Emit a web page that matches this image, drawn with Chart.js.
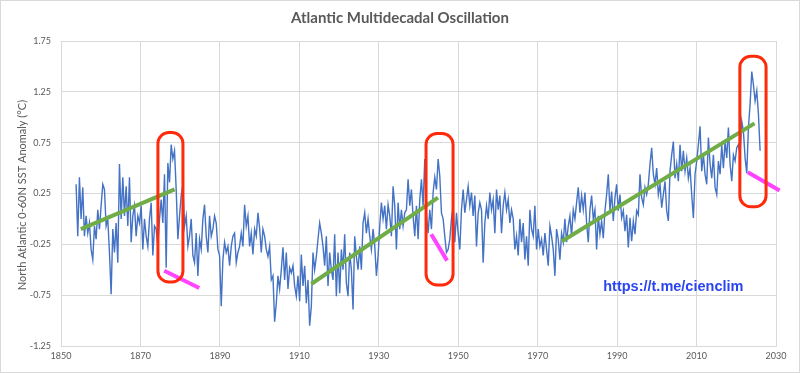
<!DOCTYPE html>
<html>
<head>
<meta charset="utf-8">
<script src="https://cdn.jsdelivr.net/npm/chart.js@4.4.0/dist/chart.umd.min.js"></script>
<style>
  html, body { margin: 0; padding: 0; background: #fff; }
  #caixa { width: 800px; height: 373px; }
</style>
</head>
<body>
<div id="caixa"><canvas id="grafico" width="800" height="373"></canvas></div>
<script>
// anomalia AMO, uma amostra a cada ~0.42 ano
const anoInicial = 1853.8;
const passo = 0.42;

const amo1854 = [
  0.34, -0.17, 0.41, 0.00, 0.31, -0.17, 0.03, -0.14, -0.04, -0.30,
  -0.40, -0.07, -0.20, 0.09, -0.10, 0.13, 0.34, 0.29, -0.07, 0.00,
  -0.33, -0.74, -0.10, -0.33, -0.04, -0.43, 0.54, 0.00, 0.41, 0.03,
  0.32, -0.07, 0.41, -0.23, 0.03, 0.13, -0.17, 0.03, -0.04, 0.13,
  -0.30, 0.00, -0.17, -0.27, 0.00, 0.16, -0.36, -0.07, -0.10, -0.27,
  0.00, 0.19, -0.04, 0.44, -0.48, 0.55, 0.36, 0.73, 0.59, 0.67,
  0.29, -0.20, 0.03, 0.23, 0.34, -0.07, 0.03, -0.27, -0.17, 0.00,
  -0.36, -0.43, -0.14, -0.56, -0.20, -0.30, 0.00, 0.14, -0.17, -0.33,
  0.03, -0.17, -0.10, 0.03, -0.04, -0.30, -0.36, -0.86, -0.40, -0.23,
  -0.33, -0.27, -0.46, -0.27, -0.17, -0.14, -0.43, -0.33, -0.27,
];

const amo1895 = [
  -0.14, -0.27, 0.14, -0.07, 0.03, -0.27, -0.14, -0.35, -0.10, -0.17,
  0.06, -0.09, -0.33, -0.10, -0.17, -0.30, -0.37, -0.27, -0.60, -0.56,
  -1.01, -0.83, -0.56, -0.69, -0.50, -0.28, -0.60, -0.33, -0.69, -0.48,
  -0.53, -0.46, -0.66, -0.76, -0.56, -0.81, -0.35, -0.66, -0.46, -0.83,
  -0.60, -1.05, -0.86, -0.33, -0.50, -0.37, -0.20, -0.04, -0.14, -0.27,
  -0.46, -0.17, -0.66, -0.33, -0.50, -0.60, -0.15, -0.76, -0.33, -0.73,
  -0.30, -0.50, -0.15, -0.63, -0.76, -0.33, -0.50, -0.89, -0.17, -0.37,
  -0.50, -0.27, -0.50, -0.04, 0.06, -0.14, 0.00, -0.17, -0.30, -0.10,
  -0.26, -0.56, -0.37, -0.07, 0.16, 0.00, 0.13, -0.10, 0.14, 0.03,
  -0.17, 0.32, 0.13, -0.30, 0.16, -0.10, 0.09, -0.07, 0.06, 0.09,
  0.39, 0.13, 0.29, 0.03, -0.17, 0.13, -0.20,
];

const amo1940 = [
  0.19, 0.39, 0.13, 0.59, 0.03, -0.14, 0.09, -0.10, 0.26, 0.41,
  0.29, 0.59, 0.42, 0.06, 0.00, -0.17, -0.33, -0.30, -0.20, 0.00,
  0.13, -0.23, 0.06, -0.14, -0.30, 0.09, 0.29, 0.06, 0.19, 0.32,
  0.13, 0.26, 0.03, 0.23, -0.27, 0.06, 0.16, 0.09, -0.43, -0.04,
  0.13, 0.00, 0.26, 0.09, 0.19, -0.14, 0.29, 0.09, 0.23, -0.14,
  0.13, 0.26, 0.09, 0.19, -0.04, 0.09, 0.00, -0.30, -0.17, -0.36,
  0.00, -0.23, -0.04, -0.40, -0.17, -0.46, 0.09, -0.10, -0.17, 0.13,
  -0.30, -0.10, -0.27, -0.20, -0.36, -0.14, -0.30, -0.46, -0.07, -0.17,
  -0.30, -0.56, -0.10, -0.20, -0.40, -0.14, -0.23, 0.00, -0.23, -0.07,
  0.03, -0.17, 0.09, 0.00, 0.16, 0.31, 0.06, 0.23, 0.09, 0.26,
  -0.04, -0.23, 0.09, 0.23, 0.00, 0.09, -0.30, 0.03,
];

const amo1986 = [
  -0.15, -0.02, -0.19, 0.08, 0.24, 0.44, 0.08, 0.27, -0.02, 0.21,
  0.34, 0.08, 0.24, 0.01, 0.08, -0.12, 0.04, -0.28, 0.01, -0.22,
  -0.02, -0.15, 0.08, 0.04, 0.44, 0.21, 0.14, 0.31, 0.24, 0.34,
  0.54, 0.70, 0.44, 0.34, 0.50, 0.24, 0.34, 0.11, 0.24, 0.37,
  0.08, -0.02, 0.47, 0.63, 0.76, 0.40, 0.54, 0.37, 0.73, 0.47,
  0.67, 0.47, 0.60, 0.40, 0.50, 0.24, 0.01, 0.44, 0.57, 0.73,
  0.91, 0.47, 0.63, 0.44, 0.34, 0.80, 0.54, 0.40, 0.63, 0.31,
  0.24, 0.57, 0.44, 0.73, 0.50, 0.76, 0.60, 0.90, 0.54, 0.37,
  0.63, 0.57, 0.70, 0.73, 0.63, 0.96, 0.86, 0.60, 0.45, 0.90,
  1.13, 1.45, 1.32, 1.16, 1.26, 1.03, 0.67,
];

// retas de tendência (verde) e de queda (magenta): [ano, valor]
const tendencias = [
  [[1855.0, -0.10], [1878.6, 0.29]],
  [[1913.0, -0.64], [1944.9, 0.21]],
  [[1976.1, -0.22], [2024.6, 0.94]],
];
const quedas = [
  [[1876.0, -0.51], [1884.8, -0.68]],
  [[1943.2, -0.15], [1947.2, -0.41]],
  [[2022.9, 0.46], [2030.9, 0.28]],
];
// caixas vermelhas: [ano inicial, ano final, topo, base]
const caixas = [
  [1874.4, 1880.7, 0.85, -0.62],
  [1941.9, 1948.7, 0.84, -0.65],
  [2020.9, 2027.5, 1.60, 0.12],
];

const titulo = "Atlantic Multidecadal Oscillation";
const tituloY = "North Atlantic 0-60N SST Anomaly (°C)";
const link = "https://t.me/cienclim";
const posLink = [1986.5, -0.665];

const serie = amo1854.concat(amo1895, amo1940, amo1986)
  .map((v, i) => ({ x: anoInicial + i * passo, y: v }));

const pontos = (seg) => seg.map((p) => ({ x: p[0], y: p[1] }));

const datasets = [];
quedas.forEach((q) => {
  datasets.push({
    data: pontos(q), borderColor: "#ff44ff", borderWidth: 4,
    pointRadius: 0, clip: false, order: 1,
  });
});
tendencias.forEach((t) => {
  datasets.push({
    data: pontos(t), borderColor: "#70ad47", borderWidth: 4,
    pointRadius: 0, order: 2,
  });
});
datasets.push({
  data: serie, borderColor: "#4472c4", borderWidth: 1.4,
  pointRadius: 0, tension: 0, order: 3,
});

const decoracoes = {
  id: "decoracoes",
  beforeDraw(chart) {
    const ctx = chart.ctx;
    ctx.save();
    ctx.fillStyle = "#fff";
    ctx.fillRect(0, 0, 800, 373);
    ctx.strokeStyle = "#d9d9d9";
    ctx.lineWidth = 1;
    ctx.strokeRect(0.5, 0.5, 799, 372);
    ctx.restore();
  },
  afterDatasetsDraw(chart) {
    const { ctx, scales: { x, y } } = chart;
    ctx.save();
    ctx.strokeStyle = "#ff2a0a";
    ctx.lineWidth = 3;
    caixas.forEach(([a0, a1, v0, v1]) => {
      const x0 = x.getPixelForValue(a0), x1 = x.getPixelForValue(a1);
      const y0 = y.getPixelForValue(v0), y1 = y.getPixelForValue(v1);
      ctx.beginPath();
      ctx.roundRect(x0, y0, x1 - x0, y1 - y0, 11);
      ctx.stroke();
    });

    ctx.fillStyle = "#2a45f0";
    ctx.font = "bold 14.5px 'Liberation Sans'";
    ctx.textBaseline = "middle";
    ctx.textAlign = "left";
    ctx.fillText(link, x.getPixelForValue(posLink[0]), y.getPixelForValue(posLink[1]));

    ctx.fillStyle = "#595959";
    ctx.font = "bold 15px Lato";
    ctx.textAlign = "center";
    ctx.fillText(titulo, 400, 18);

    ctx.font = "11px Lato";
    ctx.translate(22, 195);
    ctx.rotate(-Math.PI / 2);
    ctx.fillText(tituloY, 0, 0);
    ctx.restore();
  },
};

new Chart(document.getElementById("grafico"), {
  type: "line",
  data: { datasets },
  options: {
    responsive: false,
    animation: false,
    layout: { padding: { top: 41, right: 24, left: 0, bottom: 0 } },
    plugins: { legend: { display: false }, tooltip: { enabled: false } },
    scales: {
      x: {
        type: "linear",
        min: 1850, max: 2030,
        afterFit: (s) => { s.height = 27; },
        ticks: { stepSize: 20, color: "#595959", font: { family: "Lato", size: 9 }, padding: 5,
          callback: (v) => String(v) },
        grid: { color: "#d9d9d9", drawTicks: false },
        border: { color: "#d9d9d9" },
      },
      y: {
        min: -1.25, max: 1.75,
        afterFit: (s) => { s.width = 61; },
        ticks: { stepSize: 0.5, color: "#595959", font: { family: "Lato", size: 9 }, padding: 10,
          callback: (v) => v.toFixed(2) },
        grid: { color: "#d9d9d9", drawTicks: false },
        border: { color: "#d9d9d9" },
      },
    },
  },
  plugins: [decoracoes],
});
</script>
</body>
</html>
